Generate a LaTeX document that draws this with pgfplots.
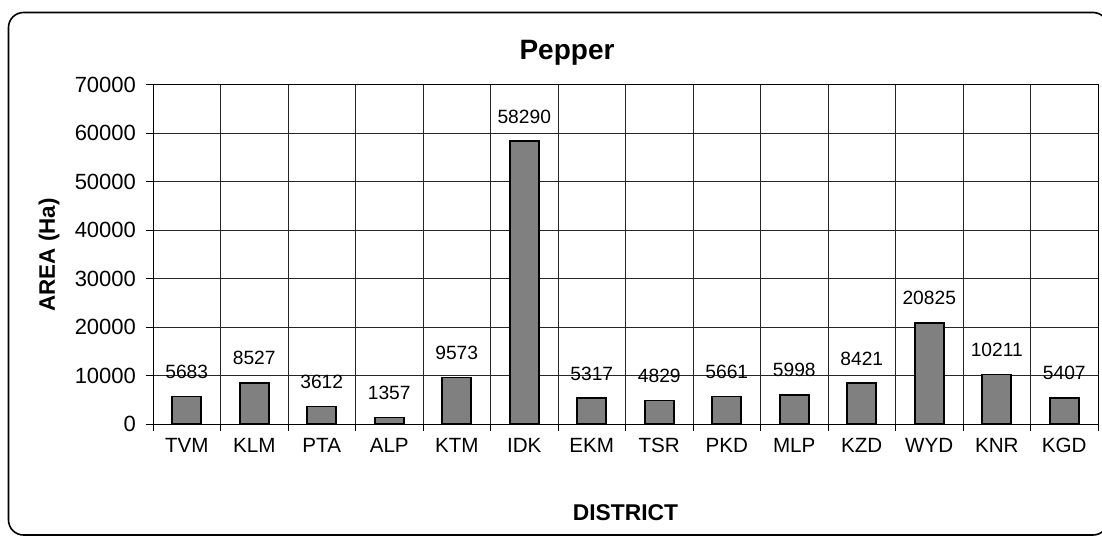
\documentclass[border=0pt]{standalone}
\usepackage{fontspec}
\setmainfont{Liberation Sans}
\usepackage{pgfplots}
\pgfplotsset{compat=1.18}
\definecolor{barfill}{RGB}{128,128,128}

\begin{document}
\begin{tikzpicture}[x=1pt,y=1pt]
\useasboundingbox (0,0) rectangle (551,268.5);
% chart frame (right side runs past the page edge)
\draw[line width=0.8pt, rounded corners=7.5pt] (4.25,1) rectangle (554,262.25);
\begin{axis}[
    at={(76.5pt,56.5pt)}, anchor=south west,
    scale only axis, width=472.5pt, height=169.75pt,
    xmin=-0.5, xmax=13.5, ymin=0, ymax=70000,
    ybar, bar width=14.5pt,
    xtick={0,...,13},
    xticklabels={TVM,KLM,PTA,ALP,KTM,IDK,EKM,TSR,PKD,MLP,KZD,WYD,KNR,KGD},
    minor xtick={-0.5,0.5,...,13.5},
    major x tick style={draw=none},
    ytick={0,10000,...,70000},
    scaled y ticks=false,
    /pgf/number format/1000 sep={},
    /pgf/number format/assume math mode=true,
    xminorgrids, ymajorgrids,
    grid style={black!85, line width=0.5pt},
    minor grid style={black!85, line width=0.5pt},
    tick align=outside, tick pos=left,
    major tick length=3.5pt, minor tick length=3.5pt,
    tick style={black, line width=0.5pt},
    axis line style={black, line width=0.5pt},
    yticklabel style={font=\fontsize{11}{13}\selectfont, xshift=-1.5pt},
    xticklabel style={font=\fontsize{10.3}{12}\selectfont},
    nodes near coords,
    every node near coord/.append style={font=\fontsize{9.6}{11}\selectfont, anchor=south, inner sep=0pt, yshift=8.5pt},
]
  \addplot[fill=barfill, draw=black, line width=0.9pt] coordinates {
    (0,5683) (1,8527) (2,3612) (3,1357) (4,9573) (5,58290) (6,5317)
    (7,4829) (8,5661) (9,5998) (10,8421) (11,20825) (12,10211) (13,5407)
  };
\end{axis}
\node[font=\bfseries\fontsize{14}{16}\selectfont, anchor=base] at (283.5,239) {Pepper};
\node[font=\bfseries\fontsize{11.4}{13}\selectfont, anchor=base] at (312.75,8.5) {DISTRICT};
\node[font=\bfseries\fontsize{11.2}{13}\selectfont, rotate=90] at (24.5,141) {AREA (Ha)};
\end{tikzpicture}
\end{document}
